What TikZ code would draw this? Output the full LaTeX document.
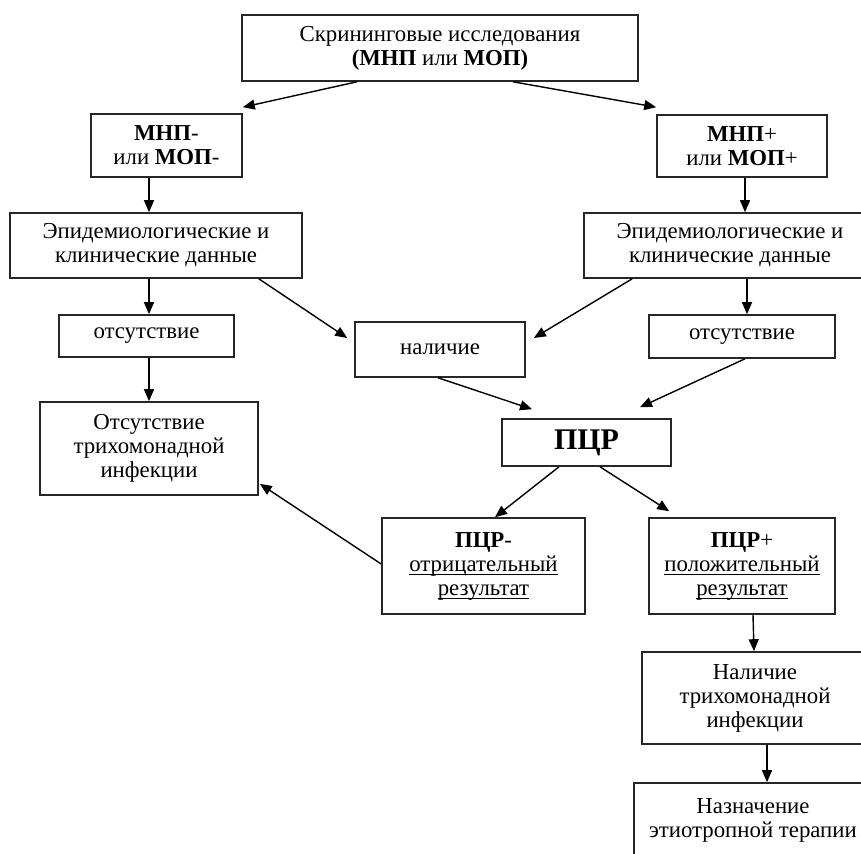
\documentclass[tikz,border=0pt]{standalone}
\usepackage{fontspec}
\setmainfont{Liberation Serif}
\usetikzlibrary{arrows.meta}
\newcommand{\undl}[1]{\sbox0{#1}\rlap{\rule[-1.8pt]{\wd0}{0.5pt}}#1}

\begin{document}
\begin{tikzpicture}[x=0.5pt,y=-0.5pt,->,>={Triangle[length=6pt,width=5pt]},line width=0.7pt,
    nodes={draw=black!85, line width=0.8pt, rectangle, align=center, inner sep=0pt, font=\fontsize{11.4}{12}\selectfont}]
    \useasboundingbox (0,0) rectangle (861,854);
    \clip (0,0) rectangle (861,854);

    \node (screen) [minimum width=198pt, minimum height=33pt] at (440,48) {Скрининговые исследования\\\textbf{(МНП} или \textbf{МОП)}};
    \node (mnpneg) [minimum width=75.5pt, minimum height=31.5pt] at (166.5,145.5) {\textbf{МНП}-\\или \textbf{МОП}-};
    \node (mnppos) [minimum width=85pt, minimum height=31pt] at (742,146) {\textbf{МНП}+\\или \textbf{МОП}+};
    \node (epidl) [minimum width=146pt, minimum height=32.5pt] at (156,245.5) {Эпидемиологические и\\клинические данные};
    \node (epidr) [minimum width=146pt, minimum height=32.5pt] at (730,245.5) {Эпидемиологические и\\клинические данные};
    \node (absl) [minimum width=87.5pt, minimum height=21pt] at (146.5,336) {отсутствие};
    \node (pres) [minimum width=85pt, minimum height=27.5pt] at (440,349.5) {наличие};
    \node (absr) [minimum width=93pt, minimum height=21.5pt] at (742,336.5) {отсутствие};
    \node (noinf) [minimum width=109pt, minimum height=46.5pt] at (149,448.5) {Отсутствие\\трихомонадной\\инфекции};
    \node (pcr) [minimum width=84.5pt, minimum height=23.5pt, font=\fontsize{15}{16}\selectfont\bfseries] at (586.5,442.5) {ПЦР};
    \node (pcrneg) [minimum width=101.5pt, minimum height=48pt] at (483.5,566) {\textbf{ПЦР}-\\\undl{отрицательный}\\\undl{результат}};
    \node (pcrpos) [minimum width=93pt, minimum height=48pt] at (742,566) {\textbf{ПЦР}+\\\undl{положительный}\\\undl{результат}};
    \node (inf) [minimum width=113pt, minimum height=46pt] at (755,698) {Наличие\\трихомонадной\\инфекции};
    \node (ther) [minimum width=119pt, minimum height=37.5pt] at (753,820.5) {Назначение\\этиотропной терапии};

    \draw ([xshift=-41.5pt]screen.south) -- ([yshift=3pt]mnpneg.north east);
    \draw ([xshift=36.5pt]screen.south) -- ([yshift=3.5pt]mnppos.north west);
    \draw ([xshift=-8.75pt]mnpneg.south) -- ([xshift=-3.5pt]epidl.north);
    \draw ([xshift=1.5pt]mnppos.south) -- ([xshift=7.5pt]epidr.north);
    \draw ([xshift=-3.5pt]epidl.south) -- ([xshift=1.25pt]absl.north);
    \draw ([xshift=-22pt]epidl.south east) -- ([shift={(-3.5pt,5.75pt)}]pres.west);
    \draw ([xshift=24.5pt]epidr.south west) -- ([shift={(4pt,5.75pt)}]pres.east);
    \draw ([xshift=8.5pt]epidr.south) -- ([xshift=2.5pt]absr.north);
    \draw ([xshift=1.25pt]absl.south) -- (noinf.north);
    \draw ([xshift=-1pt]pres.south) -- ([shift={(-27.25pt,4.5pt)}]pcr.north);
    \draw ([xshift=1.5pt]absr.south) -- ([shift={(26.75pt,5.5pt)}]pcr.north);
    \draw ([xshift=-13.75pt]pcr.south) -- ([xshift=5.75pt]pcrneg.north);
    \draw ([xshift=6.75pt]pcr.south) -- ([shift={(10.5pt,3pt)}]pcrpos.north west);
    \draw ([yshift=1pt]pcrneg.west) -- ([shift={(0.5pt,6pt)}]noinf.south east);
    \draw ([xshift=5.5pt]pcrpos.south) -- ([xshift=-0.5pt]inf.north);
    \draw ([xshift=6pt]inf.south) -- ([xshift=7pt]ther.north);
  \end{tikzpicture}
\end{document}
